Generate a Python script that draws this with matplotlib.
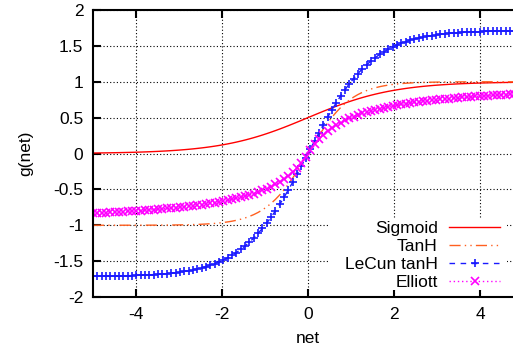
import numpy as np
import matplotlib
matplotlib.use("Agg")
import matplotlib.pyplot as plt
from matplotlib.patches import Rectangle
from matplotlib.ticker import FuncFormatter

plt.rcParams['font.family'] = ['Liberation Sans', 'DejaVu Sans']
plt.rcParams['axes.unicode_minus'] = False

# activation functions over net = -5..5, 100 samples (gnuplot default)
net = np.linspace(-5, 5, 100)
sigmoid = 1.0 / (1.0 + np.exp(-net))
tanh = np.tanh(net)
lecun = 1.7159 * np.tanh(2.0 * net / 3.0)
elliott = net / (1.0 + np.abs(net))

labels = ["Sigmoid", "TanH", "LeCun tanH", "Elliott"]
xticks = [-4, -2, 0, 2, 4]
yticks = [-2, -1.5, -1, -0.5, 0, 0.5, 1, 1.5, 2]

fs = 12.5
styles = [
    dict(color='#ff0000', lw=1.0, linestyle='-'),
    dict(color='#ff6020', lw=1.0, linestyle=(0, (8, 3, 1, 3, 1, 3))),
    dict(color='#1a1aff', lw=1.0, linestyle=(0, (4, 4))),
    dict(color='#ff00ff', lw=1.0, linestyle=(0, (1, 2))),
]
markers = [None, None, '+', 'x']

fig = plt.figure(figsize=(5.13, 3.51), dpi=100)
ax = fig.add_axes([93/513, 54/351, 430/513, 287/351])

series = [sigmoid, tanh, lecun, elliott]
for y, st, mk in zip(series, styles, markers):
    ax.plot(net, y, marker=mk, markersize=6, markeredgewidth=1.2, **st)

ax.set_xlim(-5, 5)
ax.set_ylim(-2, 2)
ax.set_xticks(xticks)
ax.set_yticks(yticks)
fmt = FuncFormatter(lambda v, p: '%g' % v)
ax.xaxis.set_major_formatter(fmt)
ax.yaxis.set_major_formatter(fmt)
ax.tick_params(direction='in', top=True, right=True, length=6, width=1.5,
               labelsize=fs)
ax.tick_params(axis='y', pad=7)
ax.tick_params(axis='x', pad=7.5)
for s in ax.spines.values():
    s.set_linewidth(1.5)
ax.grid(True, color='black', linestyle=(0, (1, 2)), linewidth=0.8)

ax.set_xlabel("net", fontsize=fs)
ax.set_ylabel("g(net)", fontsize=fs)
ax.xaxis.set_label_coords(0.5, -0.118)
ax.yaxis.set_label_coords(-0.14, 0.5)

# gnuplot-style key: right-aligned text, sample on the right, white box
ax.add_patch(Rectangle((0.551, 0.024), 0.412, 0.248, transform=ax.transAxes,
                       facecolor='white', edgecolor='none', zorder=2))
row_y = [0.244, 0.181, 0.118, 0.0557]
for lab, yy, st, mk in zip(labels, row_y, styles, markers):
    ax.text(0.802, yy, lab, transform=ax.transAxes, ha='right',
            va='center_baseline', fontsize=fs, zorder=3)
    ax.plot([0.828, 0.947], [yy, yy], transform=ax.transAxes,
            clip_on=False, zorder=3, **st)
    if mk:
        ax.plot([0.8875], [yy], transform=ax.transAxes, clip_on=False,
                zorder=3, marker=mk, markersize=6, markeredgewidth=1.2,
                color=st['color'], linestyle='none')

fig.savefig("out.png", dpi=100)
